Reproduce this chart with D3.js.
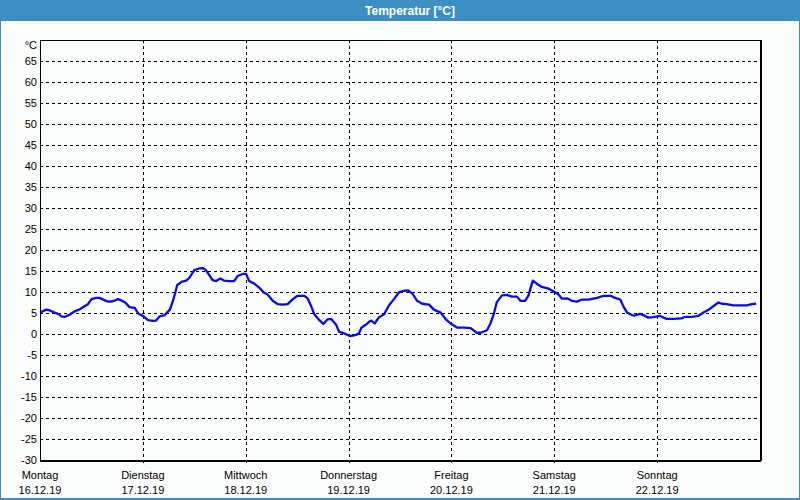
<!DOCTYPE html>
<html>
<head>
<meta charset="utf-8">
<script src="https://cdn.jsdelivr.net/npm/d3@7"></script>
<style>
html,body{margin:0;padding:0;background:#fff;}
svg{display:block;}
text{font-family:"Liberation Sans",Arial,sans-serif;font-size:11px;fill:#000;}
</style>
</head>
<body>
<svg id="chart" width="800" height="500"></svg>
<script>
const title = "Temperatur [°C]";
const unitLabel = "°C";
const dayNames = ["Montag","Dienstag","Mittwoch","Donnerstag","Freitag","Samstag","Sonntag"];
const dayDates = ["16.12.19","17.12.19","18.12.19","19.12.19","20.12.19","21.12.19","22.12.19"];
const yTicks = d3.range(-30, 70, 5);
// time in hours since Monday 00:00
const hours = [0.2,1.5,2.3,3.4,4.2,5.0,5.8,6.9,8.1,9.3,10.4,11.2,12.0,13.1,13.9,15.1,15.9,17.0,18.2,19.0,19.9,20.9,22.1,22.9,
  24.0,25.2,26.4,27.1,27.9,29.1,30.3,31.0,31.6,32.0,33.0,34.1,34.8,36.0,37.2,38.0,38.7,39.5,40.3,41.1,42.1,43.0,44.2,45.3,46.1,47.3,
  48.1,48.8,50.0,51.2,52.3,53.1,54.3,55.5,56.6,57.8,59.0,60.1,61.7,62.5,63.2,64.0,65.2,66.1,67.1,67.9,68.6,69.1,69.8,70.9,71.7,
  72.5,73.7,74.4,75.0,76.0,76.8,77.3,78.1,79.1,80.3,81.4,82.6,83.8,84.9,85.9,86.9,88.0,89.2,90.8,91.9,93.5,94.7,95.8,
  97.4,98.9,100.5,101.9,102.8,103.6,104.3,105.1,105.9,106.6,107.8,109.0,110.1,111.3,112.1,113.2,114.0,114.6,115.0,116.0,117.1,118.7,119.9,
  121.0,121.8,123.0,124.1,125.3,126.5,128.0,130.0,131.5,133.1,134.2,135.4,136.2,137.0,138.1,138.8,140.0,140.8,141.9,143.1,
  144.7,146.2,147.8,149.7,150.5,152.1,153.6,154.8,155.9,157.1,158.3,159.1,160.2,161.8,163.3,164.9,166.1,167.1];
const temps = [5.2,5.8,5.6,5.1,4.8,4.2,4.1,4.6,5.4,5.9,6.6,7.1,8.3,8.6,8.6,8.0,7.7,7.8,8.3,8.0,7.5,6.4,6.2,4.9,
  4.3,3.3,3.1,3.2,4.2,4.5,5.8,7.8,10.0,11.6,12.4,12.7,13.3,15.2,15.6,15.7,15.2,14.0,12.8,12.6,13.2,12.7,12.6,12.6,13.8,14.3,
  14.3,12.6,12.0,11.0,9.8,9.4,7.9,7.1,7.0,7.1,8.3,9.1,9.1,8.4,6.8,4.7,3.3,2.4,3.5,3.6,2.8,2.2,0.5,0.2,-0.2,
  -0.5,-0.2,0.1,1.5,2.2,2.9,3.2,2.5,4.0,4.7,6.8,8.3,10.0,10.3,10.4,9.6,7.9,7.2,7.0,5.8,5.1,3.5,2.5,
  1.5,1.5,1.4,0.3,0.3,0.6,0.9,2.5,4.8,7.6,9.2,9.3,8.9,8.9,7.9,7.9,9.2,11.4,12.7,11.9,11.2,10.8,10.1,
  9.4,8.4,8.5,7.9,7.7,8.2,8.2,8.6,9.1,9.1,8.6,8.2,6.4,5.1,4.5,4.4,4.8,4.5,3.9,4.0,
  4.3,3.6,3.6,3.7,4.1,4.1,4.3,5.1,5.7,6.6,7.5,7.2,7.1,6.8,6.8,6.8,7.1,7.2];

const data = hours.map((h,i)=>({h:h, v:temps[i]}));

const svg = d3.select("#chart");
const W = 800, H = 500;
const m = {left:40, right:760, top:40, bottom:460};

// background & frame
svg.append("rect").attr("x",0).attr("y",0).attr("width",W).attr("height",H).attr("fill","#3d8fc3");
svg.append("rect").attr("x",1).attr("y",21).attr("width",W-2).attr("height",H-23).attr("fill","#fbfdfd");
svg.append("text").attr("x",410).attr("y",15).attr("text-anchor","middle")
  .style("fill","#fff").style("font-weight","bold").style("font-size","12px").text(title);

const x = d3.scaleLinear().domain([0,168]).range([m.left, m.right]);
const y = d3.scaleLinear().domain([-30,70]).range([m.bottom, m.top]);

const g = svg.append("g");

// horizontal grid
g.selectAll("line.hg").data(yTicks.filter(t=>t>-30)).enter().append("line")
  .attr("x1",m.left).attr("x2",m.right)
  .attr("y1",d=>Math.round(y(d))+0.5).attr("y2",d=>Math.round(y(d))+0.5)
  .attr("stroke","#000").attr("stroke-width",1).attr("stroke-dasharray","3,3").attr("shape-rendering","crispEdges");
// vertical grid
g.selectAll("line.vg").data(d3.range(1,7)).enter().append("line")
  .attr("x1",d=>Math.round(x(d*24))+0.5).attr("x2",d=>Math.round(x(d*24))+0.5)
  .attr("y1",m.top).attr("y2",m.bottom+5)
  .attr("stroke","#000").attr("stroke-width",1).attr("stroke-dasharray","3,3").attr("shape-rendering","crispEdges");

// y tick labels
g.selectAll("text.yl").data(yTicks).enter().append("text")
  .attr("x",37).attr("y",d=>y(d)+4).attr("text-anchor","end").text(d=>d);
g.append("text").attr("x",37).attr("y",y(70)+9).attr("text-anchor","end").text(unitLabel);

// x labels
g.selectAll("text.xd").data(dayNames).enter().append("text")
  .attr("x",(d,i)=>x(i*24)).attr("y",479).attr("text-anchor","middle").text(d=>d);
g.selectAll("text.xdt").data(dayDates).enter().append("text")
  .attr("x",(d,i)=>x(i*24)).attr("y",494).attr("text-anchor","middle").text(d=>d);

// frame
g.append("rect").attr("x",m.left+0.5).attr("y",m.top+0.5).attr("width",m.right-m.left).attr("height",m.bottom-m.top)
  .attr("fill","none").attr("stroke","#000").attr("stroke-width",1).attr("shape-rendering","crispEdges");
g.append("line").attr("x1",m.left).attr("x2",m.right+1).attr("y1",m.bottom+1).attr("y2",m.bottom+1)
  .attr("stroke","#000").attr("stroke-width",1).attr("shape-rendering","crispEdges");
g.append("line").attr("x1",m.right+1.5).attr("x2",m.right+1.5).attr("y1",m.top).attr("y2",m.bottom+1)
  .attr("stroke","#000").attr("stroke-width",1).attr("shape-rendering","crispEdges");

// temperature line
const line = d3.line().x(d=>x(d.h)).y(d=>y(d.v));
g.append("path").datum(data).attr("d",line).attr("fill","none")
  .attr("stroke","#0a0ae6").attr("stroke-width",2.3).attr("stroke-linejoin","round");
</script>
</body>
</html>
